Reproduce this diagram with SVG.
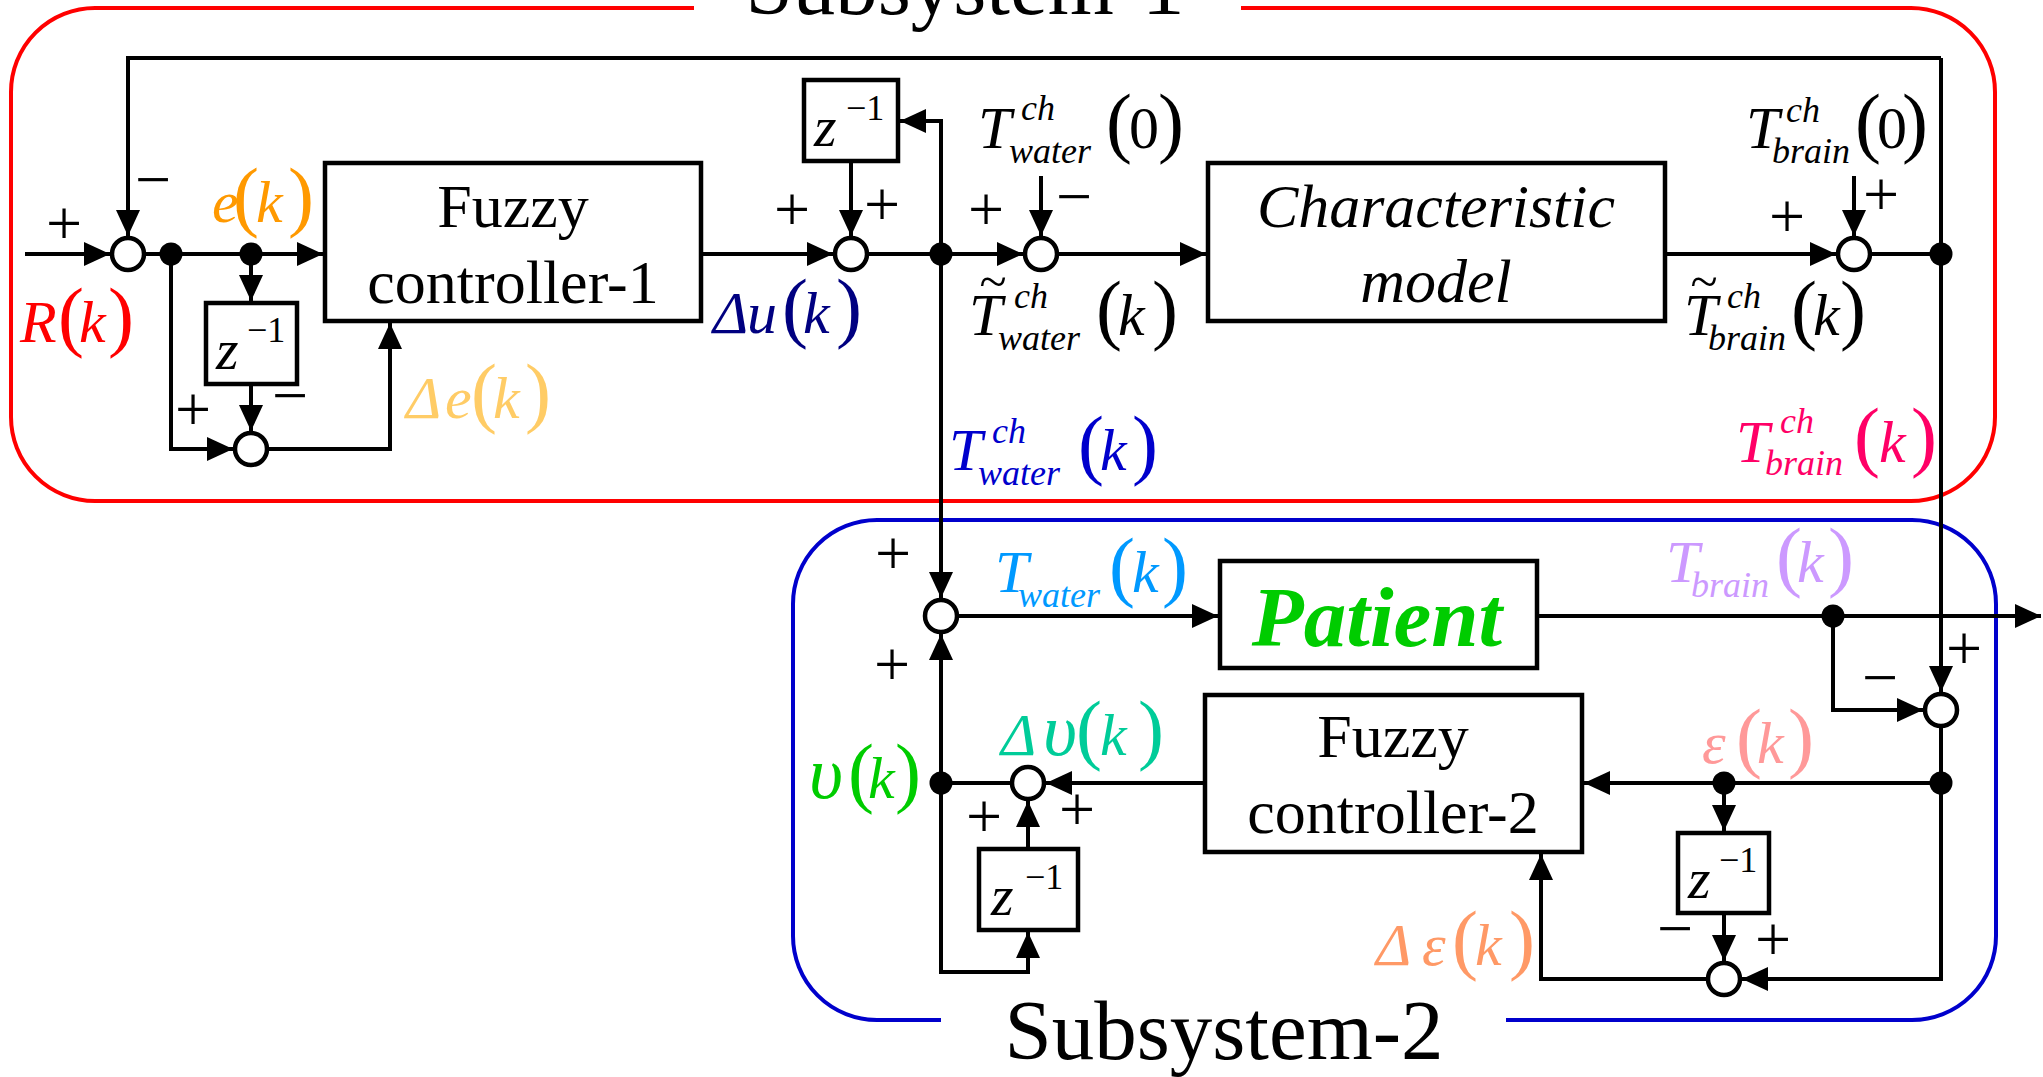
<svg xmlns="http://www.w3.org/2000/svg" width="2043" height="1077" viewBox="0 0 2043 1077">
<defs>
<marker id="ah" viewBox="0 0 26 24" refX="26" refY="12" markerWidth="26" markerHeight="24" markerUnits="userSpaceOnUse" orient="auto">
<path d="M0,0 L26,12 L0,24 Z" fill="#000"/>
</marker>
<style>
text{font-family:"Liberation Serif","Times New Roman",serif;fill:#000;}
.ln{fill:none;stroke:#000;stroke-width:4;}
.arr{marker-end:url(#ah);}
.box{fill:#fff;stroke:#000;stroke-width:4.5;}
.sum{fill:#fff;stroke:#000;stroke-width:4.5;}
.dot{fill:#000;}
.frame{fill:none;stroke-width:4;}
.lbl{font-size:62px;text-anchor:middle;}
.m{font-size:60px;font-style:italic;}
.gk{font-size:74px;font-style:italic;}
.pa{font-size:78px;font-style:normal;}
.up{font-style:normal;}
.ss{font-size:36px;font-style:italic;}
.sg{font-size:64px;text-anchor:middle;}
.zz{font-size:58px;font-style:italic;}
.ze{font-size:36px;font-style:normal;}
.title{font-size:85px;text-anchor:middle;}
.tl{font-size:50px;font-style:normal;text-anchor:middle;}
</style>
</defs>
<rect width="2043" height="1077" fill="#fff"/>

<!-- subsystem frames -->
<g id="frames">
<path class="frame" stroke="#FF0000" d="M694,8 H95 A84,84 0 0 0 11,92 V417 A84,84 0 0 0 95,501 H1911 A84,84 0 0 0 1995,417 V92 A84,84 0 0 0 1911,8 H1241"/>
<text class="title" x="965" y="14">Subsystem-1</text>
<path class="frame" stroke="#0000CC" d="M941,1020 H877 A84,84 0 0 1 793,936 V604 A84,84 0 0 1 877,520 H1912 A84,84 0 0 1 1996,604 V936 A84,84 0 0 1 1912,1020 H1506"/>
<text class="title" x="1224" y="1059">Subsystem-2</text>
</g>

<!-- signal lines -->
<g id="connectors">
<path class="ln arr" d="M25,254 H110"/>
<path class="ln arr" d="M1941,58 H128 V236"/>
<path class="ln arr" d="M1941,58 V692"/>
<path class="ln arr" d="M144,254 H323"/>
<path class="ln arr" d="M251,254 V301"/>
<path class="ln arr" d="M251,384 V431"/>
<path class="ln arr" d="M171,254 V449 H233"/>
<path class="ln arr" d="M267,449 H390 V323"/>
<path class="ln arr" d="M701,254 H833"/>
<path class="ln arr" d="M851,161 V236"/>
<path class="ln arr" d="M867,254 H1023"/>
<path class="ln arr" d="M941,254 V121 H900"/>
<path class="ln arr" d="M1041,176 V236"/>
<path class="ln arr" d="M1057,254 H1206"/>
<path class="ln arr" d="M1665,254 H1836"/>
<path class="ln arr" d="M1854,176 V236"/>
<path class="ln" d="M1870,254 H1941"/>
<path class="ln arr" d="M941,254 V598"/>
<path class="ln arr" d="M957,616 H1218"/>
<path class="ln arr" d="M1537,616 H2041"/>
<path class="ln arr" d="M1833,616 V710 H1923"/>
<path class="ln" d="M1941,726 V783"/>
<path class="ln arr" d="M1941,783 H1584"/>
<path class="ln arr" d="M1724,783 V831"/>
<path class="ln arr" d="M1724,913 V961"/>
<path class="ln arr" d="M1941,783 V979 H1742"/>
<path class="ln arr" d="M1706,979 H1541 V854"/>
<path class="ln arr" d="M1205,783 H1046"/>
<path class="ln" d="M1010,783 H941"/>
<path class="ln arr" d="M941,783 V634"/>
<path class="ln arr" d="M941,783 V972 H1028 V932"/>
<path class="ln arr" d="M1028,849 V801"/>
</g>

<!-- branch points -->
<g id="junctions">
<circle class="dot" cx="171" cy="254" r="11.5"/>
<circle class="dot" cx="251" cy="254" r="11.5"/>
<circle class="dot" cx="941" cy="254" r="11.5"/>
<circle class="dot" cx="1941" cy="254" r="11.5"/>
<circle class="dot" cx="1833" cy="616" r="11.5"/>
<circle class="dot" cx="1941" cy="783" r="11.5"/>
<circle class="dot" cx="1724" cy="783" r="11.5"/>
<circle class="dot" cx="941" cy="783" r="11.5"/>
</g>

<!-- summing junctions -->
<g id="sum-error"><circle class="sum" cx="128" cy="254" r="16"/></g>
<g id="sum-delta-e"><circle class="sum" cx="251" cy="449" r="16"/></g>
<g id="sum-u"><circle class="sum" cx="851" cy="254" r="16"/></g>
<g id="sum-water-ch"><circle class="sum" cx="1041" cy="254" r="16"/></g>
<g id="sum-brain-ch"><circle class="sum" cx="1854" cy="254" r="16"/></g>
<g id="sum-water"><circle class="sum" cx="941" cy="616" r="16"/></g>
<g id="sum-epsilon"><circle class="sum" cx="1941" cy="710" r="16"/></g>
<g id="sum-delta-epsilon"><circle class="sum" cx="1724" cy="979" r="16"/></g>
<g id="sum-upsilon"><circle class="sum" cx="1028" cy="783" r="16"/></g>

<!-- blocks -->
<g id="fuzzy-controller-1">
<rect class="box" x="325" y="163" width="376" height="158"/>
<text class="lbl" x="513" y="227">Fuzzy</text>
<text class="lbl" x="513" y="303">controller-1</text>
</g>
<g id="characteristic-model">
<rect class="box" x="1208" y="163" width="457" height="158"/>
<text class="lbl" x="1436" y="227" font-style="italic">Characteristic</text>
<text class="lbl" x="1436" y="302" font-style="italic">model</text>
</g>
<g id="patient">
<rect class="box" x="1220" y="561" width="317" height="107"/>
<text x="1377" y="646" font-size="85" font-weight="bold" font-style="italic" text-anchor="middle" style="fill:#00CC00">Patient</text>
</g>
<g id="fuzzy-controller-2">
<rect class="box" x="1205" y="695" width="377" height="157"/>
<text class="lbl" x="1393" y="757">Fuzzy</text>
<text class="lbl" x="1393" y="833">controller-2</text>
</g>
<g id="delay-e">
<rect class="box" x="206" y="303" width="91" height="81"/>
<text><tspan class="zz" x="216" y="369">z</tspan><tspan class="ze" x="247" y="342">−1</tspan></text>
</g>
<g id="delay-u">
<rect class="box" x="804" y="80" width="94" height="81"/>
<text><tspan class="zz" x="814" y="146">z</tspan><tspan class="ze" x="846" y="120">−1</tspan></text>
</g>
<g id="delay-epsilon">
<rect class="box" x="1678" y="833" width="91" height="80"/>
<text><tspan class="zz" x="1688" y="898">z</tspan><tspan class="ze" x="1719" y="872">−1</tspan></text>
</g>
<g id="delay-upsilon">
<rect class="box" x="979" y="849" width="99" height="81"/>
<text><tspan class="zz" x="991" y="915">z</tspan><tspan class="ze" x="1025" y="889">−1</tspan></text>
</g>

<!-- sign marks at junction inputs -->
<g id="signs">
<text class="sg" x="64" y="245">+</text>
<text class="sg" x="153" y="201">−</text>
<text class="sg" x="193" y="431">+</text>
<text class="sg" x="290" y="417">−</text>
<text class="sg" x="792" y="231">+</text>
<text class="sg" x="882" y="226">+</text>
<text class="sg" x="986" y="231">+</text>
<text class="sg" x="1074" y="218">−</text>
<text class="sg" x="1787" y="238">+</text>
<text class="sg" x="1881" y="216">+</text>
<text class="sg" x="893" y="575">+</text>
<text class="sg" x="892" y="686">+</text>
<text class="sg" x="1964" y="670">+</text>
<text class="sg" x="1880" y="699">−</text>
<text class="sg" x="1675" y="950">−</text>
<text class="sg" x="1773" y="961">+</text>
<text class="sg" x="984" y="838">+</text>
<text class="sg" x="1077" y="831">+</text>
</g>

<!-- signal names -->
<g id="label-R">
<text style="fill:#FF0000"><tspan class="m" x="20" y="342">R</tspan><tspan class="pa" x="58" y="342">(</tspan><tspan class="m" x="79" y="342">k</tspan><tspan class="pa" x="108" y="342">)</tspan></text>
</g>
<g id="label-e">
<text style="fill:#FF9900"><tspan class="m" x="212" y="222">e</tspan><tspan class="pa" x="233" y="222">(</tspan><tspan class="m" x="256" y="222">k</tspan><tspan class="pa" x="288" y="222">)</tspan></text>
</g>
<g id="label-delta-e">
<text style="fill:#FFCC66"><tspan class="m" x="406" y="418">Δ</tspan><tspan class="m" x="445" y="418">e</tspan><tspan class="pa" x="471" y="418">(</tspan><tspan class="m" x="493" y="418">k</tspan><tspan class="pa" x="525" y="418">)</tspan></text>
</g>
<g id="label-delta-u">
<text style="fill:#000080"><tspan class="m" x="713" y="333">Δ</tspan><tspan class="m" x="747" y="333">u</tspan><tspan class="pa" x="782" y="333">(</tspan><tspan class="m" x="803" y="333">k</tspan><tspan class="pa" x="836" y="333">)</tspan></text>
</g>
<g id="label-twater-ch-0">
<text><tspan class="m" x="978" y="148">T</tspan><tspan class="ss" x="1021" y="120">ch</tspan><tspan class="ss" x="1009" y="163">water</tspan><tspan class="pa" x="1106" y="148">(</tspan><tspan class="m up" x="1129" y="148">0</tspan><tspan class="pa" x="1158" y="148">)</tspan></text>
</g>
<g id="label-twater-ch-est">
<text class="tl" x="993" y="298">~</text>
<text><tspan class="m" x="969" y="335">T</tspan><tspan class="ss" x="1014" y="308">ch</tspan><tspan class="ss" x="998" y="350">water</tspan><tspan class="pa" x="1096" y="335">(</tspan><tspan class="m" x="1118" y="335">k</tspan><tspan class="pa" x="1152" y="335">)</tspan></text>
</g>
<g id="label-twater-ch">
<text style="fill:#0000CC"><tspan class="m" x="949" y="470">T</tspan><tspan class="ss" x="992" y="443">ch</tspan><tspan class="ss" x="978" y="485">water</tspan><tspan class="pa" x="1078" y="470">(</tspan><tspan class="m" x="1100" y="470">k</tspan><tspan class="pa" x="1132" y="470">)</tspan></text>
</g>
<g id="label-tbrain-ch-0">
<text><tspan class="m" x="1746" y="148">T</tspan><tspan class="ss" x="1786" y="122">ch</tspan><tspan class="ss" x="1772" y="163">brain</tspan><tspan class="pa" x="1855" y="148">(</tspan><tspan class="m up" x="1877" y="148">0</tspan><tspan class="pa" x="1902" y="148">)</tspan></text>
</g>
<g id="label-tbrain-ch-est">
<text class="tl" x="1704" y="298">~</text>
<text><tspan class="m" x="1684" y="335">T</tspan><tspan class="ss" x="1727" y="308">ch</tspan><tspan class="ss" x="1708" y="350">brain</tspan><tspan class="pa" x="1791" y="335">(</tspan><tspan class="m" x="1813" y="335">k</tspan><tspan class="pa" x="1840" y="335">)</tspan></text>
</g>
<g id="label-tbrain-ch">
<text style="fill:#FF0066"><tspan class="m" x="1736" y="462">T</tspan><tspan class="ss" x="1780" y="433">ch</tspan><tspan class="ss" x="1765" y="475">brain</tspan><tspan class="pa" x="1854" y="462">(</tspan><tspan class="m" x="1879" y="462">k</tspan><tspan class="pa" x="1911" y="462">)</tspan></text>
</g>
<g id="label-twater">
<text style="fill:#0099FF"><tspan class="m" x="995" y="592">T</tspan><tspan class="ss" x="1018" y="607">water</tspan><tspan class="pa" x="1109" y="592">(</tspan><tspan class="m" x="1132" y="592">k</tspan><tspan class="pa" x="1162" y="592">)</tspan></text>
</g>
<g id="label-tbrain">
<text style="fill:#CC99FF"><tspan class="m" x="1666" y="582">T</tspan><tspan class="ss" x="1691" y="597">brain</tspan><tspan class="pa" x="1776" y="582">(</tspan><tspan class="m" x="1797" y="582">k</tspan><tspan class="pa" x="1828" y="582">)</tspan></text>
</g>
<g id="label-epsilon">
<text style="fill:#FF9999"><tspan class="m" x="1702" y="763">ε</tspan><tspan class="pa" x="1736" y="763">(</tspan><tspan class="m" x="1757" y="763">k</tspan><tspan class="pa" x="1788" y="763">)</tspan></text>
</g>
<g id="label-delta-epsilon">
<text style="fill:#FF9966"><tspan class="m" x="1376" y="965">Δ</tspan><tspan class="m" x="1422" y="965">ε</tspan><tspan class="pa" x="1452" y="965">(</tspan><tspan class="m" x="1475" y="965">k</tspan><tspan class="pa" x="1509" y="965">)</tspan></text>
</g>
<g id="label-delta-upsilon">
<text style="fill:#00CC99"><tspan class="m" x="1001" y="755">Δ</tspan><tspan class="gk" x="1043" y="755">υ</tspan><tspan class="pa" x="1076" y="755">(</tspan><tspan class="m" x="1100" y="755">k</tspan><tspan class="pa" x="1138" y="755">)</tspan></text>
</g>
<g id="label-upsilon">
<text style="fill:#00CC00"><tspan class="gk" x="809" y="798">υ</tspan><tspan class="pa" x="848" y="798">(</tspan><tspan class="m" x="868" y="798">k</tspan><tspan class="pa" x="895" y="798">)</tspan></text>
</g>
</svg>
